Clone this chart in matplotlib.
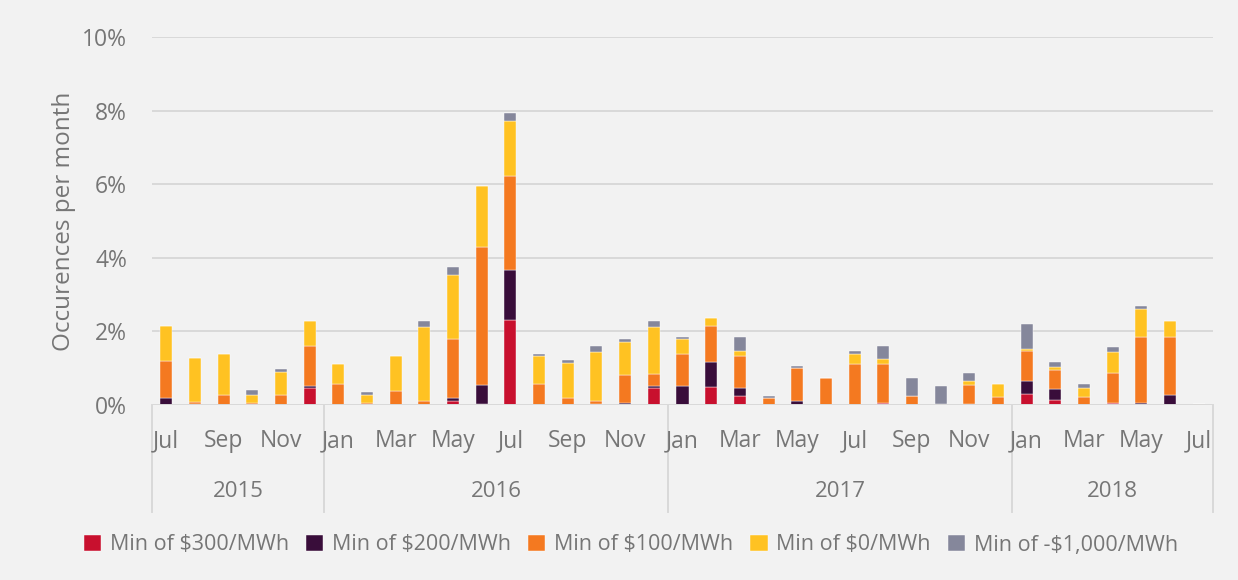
import numpy as np
import matplotlib
matplotlib.use('Agg')
import matplotlib.pyplot as plt
from matplotlib.ticker import FuncFormatter

plt.rcParams['font.family'] = ['Open Sans', 'DejaVu Sans']

months = ['Jul', 'Aug', 'Sep', 'Oct', 'Nov', 'Dec',
          'Jan', 'Feb', 'Mar', 'Apr', 'May', 'Jun', 'Jul', 'Aug', 'Sep', 'Oct', 'Nov', 'Dec',
          'Jan', 'Feb', 'Mar', 'Apr', 'May', 'Jun', 'Jul', 'Aug', 'Sep', 'Oct', 'Nov', 'Dec',
          'Jan', 'Feb', 'Mar', 'Apr', 'May', 'Jun', 'Jul']
years = ['2015', '2016', '2017', '2018']
months_per_year = [6, 12, 12, 7]

series_names = ['Min of $300/MWh', 'Min of $200/MWh', 'Min of $100/MWh',
                'Min of $0/MWh', 'Min of -$1,000/MWh']

# occurrences per month, in percent
min_300 = [0, 0, 0, 0, 0, 0.47,
           0, 0, 0, 0, 0.10, 0.04, 2.32, 0, 0, 0.04, 0, 0.46,
           0, 0.49, 0.24, 0, 0, 0, 0, 0.05, 0, 0, 0, 0,
           0.31, 0.14, 0, 0.05, 0, 0, 0]
min_200 = [0.20, 0.04, 0, 0, 0, 0.05,
           0, 0, 0, 0, 0.08, 0.49, 1.36, 0, 0, 0, 0.05, 0.06,
           0.51, 0.67, 0.21, 0, 0.11, 0, 0, 0, 0, 0, 0.04, 0,
           0.33, 0.29, 0, 0, 0.05, 0.26, 0]
min_100 = [1.00, 0.05, 0.27, 0.05, 0.27, 1.09,
           0.57, 0.05, 0.37, 0.12, 1.61, 3.76, 2.55, 0.57, 0.18, 0.06, 0.76, 0.32,
           0.88, 0.98, 0.87, 0.19, 0.89, 0.74, 1.12, 1.07, 0.25, 0.04, 0.49, 0.23,
           0.82, 0.52, 0.23, 0.81, 1.81, 1.58, 0.04]
min_0 = [0.95, 1.19, 1.12, 0.21, 0.63, 0.67,
         0.55, 0.22, 0.95, 2.01, 1.75, 1.66, 1.49, 0.75, 0.97, 1.35, 0.91, 1.29,
         0.40, 0.22, 0.14, 0, 0, 0, 0.27, 0.14, 0, 0, 0.13, 0.35,
         0.07, 0.07, 0.22, 0.57, 0.74, 0.43, 0]
min_neg1000 = [0, 0, 0, 0.15, 0.08, 0,
               0, 0.07, 0, 0.14, 0.20, 0, 0.21, 0.07, 0.08, 0.14, 0.06, 0.14,
               0.07, 0, 0.40, 0.06, 0.05, 0, 0.07, 0.34, 0.49, 0.48, 0.22, 0,
               0.68, 0.15, 0.13, 0.15, 0.08, 0, 0]

colors = ['#C8102E', '#390D3A', '#F47920', '#FFC222', '#85879B']
text_color = '#767676'
bg = '#f2f2f2'

fig = plt.figure(figsize=(12.38, 5.80), dpi=100, facecolor=bg)
ax = fig.add_axes([152 / 1238, 175 / 580, 1061 / 1238, 368 / 580], facecolor=bg)

x = np.arange(len(months))
bottom = np.zeros(len(months))
for name, vals, c in zip(series_names,
                         [min_300, min_200, min_100, min_0, min_neg1000], colors):
    vals = np.array(vals) / 100
    ax.bar(x, vals, width=0.42, bottom=bottom, color=c, label=name, zorder=3,
           edgecolor='white', linewidth=0.3)
    bottom += vals

ax.set_xlim(-0.5, len(months) - 0.5)
ax.set_ylim(0, 0.10)
ax.set_yticks(np.arange(0, 0.101, 0.02))
ax.yaxis.set_major_formatter(FuncFormatter(lambda v, p: f'{v * 100:.0f}%'))
ax.tick_params(axis='y', length=0, pad=18, labelsize=16.5, labelcolor=text_color)
ax.grid(axis='y', color='#d9d9d9', linewidth=1.4, zorder=0)
for s in ax.spines.values():
    s.set_visible(False)
ax.axhline(0, color='#d9d9d9', linewidth=1.4, zorder=4)

ax.set_xticks([])
ax.set_ylabel('Occurences per month', fontsize=17.5, color=text_color)
ax.yaxis.set_label_coords(-0.072, 0.5)

# two-level x axis: months and years
tr = ax.get_xaxis_transform()
for i, m in enumerate(months):
    if i % 2 == 0:
        ax.text(i, -0.098, m, transform=tr, ha='center', va='center',
                fontsize=16.5, color=text_color)

start = 0
for yr, n in zip(years, months_per_year):
    ax.plot([start - 0.5, start - 0.5], [0, -0.29], transform=tr, color='#d9d9d9',
            linewidth=1.4, clip_on=False)
    ax.text(start - 0.5 + n / 2, -0.236, yr, transform=tr, ha='center', va='center',
            fontsize=16, color=text_color)
    start += n
ax.plot([start - 0.5, start - 0.5], [0, -0.29], transform=tr, color='#d9d9d9',
        linewidth=1.4, clip_on=False)

fig.legend(loc='center', bbox_to_anchor=(631 / 1238, 35 / 580), ncol=5,
           frameon=False, fontsize=15.5, labelcolor=text_color, handlelength=0.8,
           handleheight=0.8, handletextpad=0.4, columnspacing=0.8)

fig.savefig('out.png', dpi=100, facecolor=bg)
